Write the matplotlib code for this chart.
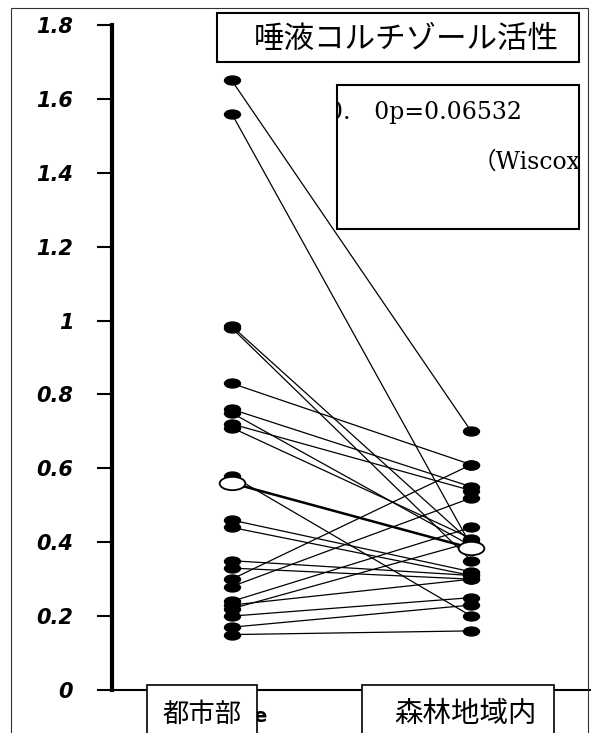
import matplotlib
matplotlib.use("Agg")
import matplotlib.pyplot as plt
from matplotlib.patches import Rectangle
from matplotlib.path import Path

# 唾液コルチゾール活性: 都市部 -> 森林地域内 (each subject)
urban = [1.65, 1.56, 0.985, 0.98, 0.83, 0.76, 0.75, 0.72, 0.71, 0.58, 0.46,
         0.44, 0.35, 0.33, 0.30, 0.28, 0.24, 0.23, 0.22, 0.20, 0.17, 0.15]
forest = [0.70, 0.39, 0.40, 0.35, 0.61, 0.55, 0.39, 0.54, 0.41, 0.20, 0.32,
          0.31, 0.31, 0.30, 0.61, 0.52, 0.44, 0.30, 0.40, 0.25, 0.23, 0.16]
means = [0.56, 0.384]
groups = ["都市部", "森林地域内"]
yticks = [0, 0.2, 0.4, 0.6, 0.8, 1, 1.2, 1.4, 1.6, 1.8]
ytick_labels = ["0", "0.2", "0.4", "0.6", "0.8", "1", "1.2", "1.4", "1.6", "1.8"]
title = "唾液コルチゾール活性"
stat_lines = ["0.\u30000p=0.06532", "（Wiscoxon検定）"]

W, H = 591, 733
fig = plt.figure(figsize=(W / 100, H / 100), dpi=100)
fig.patch.set_facecolor("white")


def fx(px):
    return px / W


def fy(py):
    # py measured from the top of the picture
    return 1 - py / H


ax = fig.add_axes([fx(112), fy(690), 1 - fx(112), fy(25) - fy(690)])
ax.set_xlim(-0.5, 1.5)
ax.set_ylim(0, 1.8)

circ = Path.unit_circle()
small_ell = Path(circ.vertices * [1, 0.56], circ.codes)
big_ell = Path(circ.vertices * [1, 0.52], circ.codes)

for a, b in zip(urban, forest):
    ax.plot([0, 1], [a, b], color="black", lw=0.9, zorder=2, clip_on=False)
ax.plot([0, 1], means, color="black", lw=1.8, zorder=3, clip_on=False)

ax.plot([0] * len(urban), urban, ls="none", marker=small_ell, ms=11.5,
        color="black", zorder=4, clip_on=False)
ax.plot([1] * len(forest), forest, ls="none", marker=small_ell, ms=11.5,
        color="black", zorder=4, clip_on=False)
ax.plot([0, 1], means, ls="none", marker=big_ell, ms=18.5, mfc="white",
        mec="black", mew=1.3, zorder=5, clip_on=False)

for s in ["top", "right"]:
    ax.spines[s].set_visible(False)
ax.spines["left"].set_linewidth(3)
ax.spines["bottom"].set_linewidth(1.5)
ax.set_xticks([])
ax.set_yticks(yticks)
ax.set_yticklabels(ytick_labels)
ax.tick_params(axis="y", length=11, width=1.5, pad=17)
for lab in ax.get_yticklabels():
    lab.set_fontfamily("DejaVu Sans")
    lab.set_fontweight("heavy")
    lab.set_fontstyle("italic")
    lab.set_fontsize(15)

# outer frame
fig.patches.append(Rectangle((fx(11), fy(760)), fx(588) - fx(11), fy(8) - fy(760),
                             transform=fig.transFigure, fill=False, ec="#333333",
                             lw=0.8, zorder=1))

# title box
fig.patches.append(Rectangle((fx(217), fy(62)), fx(579) - fx(217), fy(13) - fy(62),
                             transform=fig.transFigure, fc="white", ec="black",
                             lw=1.5, zorder=1))
fig.text(fx(406), fy(39), title, ha="center", va="center", fontsize=22,
         family=["Noto Sans CJK JP"], zorder=4)

# statistics box, text clipped by its frame
stat_box = Rectangle((fx(337), fy(229)), fx(579) - fx(337), fy(85) - fy(229),
                     transform=fig.transFigure, fc="white", ec="black",
                     lw=1.5, zorder=1)
fig.patches.append(stat_box)
t1 = fig.text(fx(522), fy(112), stat_lines[0], ha="right", va="center",
              fontsize=17, family=["DejaVu Serif", "Noto Sans CJK JP"], zorder=4)
t2 = fig.text(fx(473), fy(162), stat_lines[1], ha="left", va="center",
              fontsize=17, family=["DejaVu Serif", "Noto Sans CJK JP"], zorder=4)
t1.set_clip_path(stat_box)
t2.set_clip_path(stat_box)

# hidden axis label peeking out behind the category box
fig.text(fx(267), fy(717), "e", ha="right", va="center", fontsize=14,
         fontweight="bold", family=["DejaVu Sans"], zorder=0.5)

# category boxes
for name, x0, x1, xc, fs in [(groups[0], 147, 257, 202, 19),
                             (groups[1], 362, 554, 465, 20.5)]:
    fig.patches.append(Rectangle((fx(x0), fy(760)), fx(x1) - fx(x0), fy(685) - fy(760),
                                 transform=fig.transFigure, fc="white", ec="black",
                                 lw=1.2, zorder=1))
    fig.text(fx(xc), fy(714), name, ha="center", va="center", fontsize=fs,
             family=["Noto Sans CJK JP"], zorder=4)

fig.savefig("out.png", dpi=100)
